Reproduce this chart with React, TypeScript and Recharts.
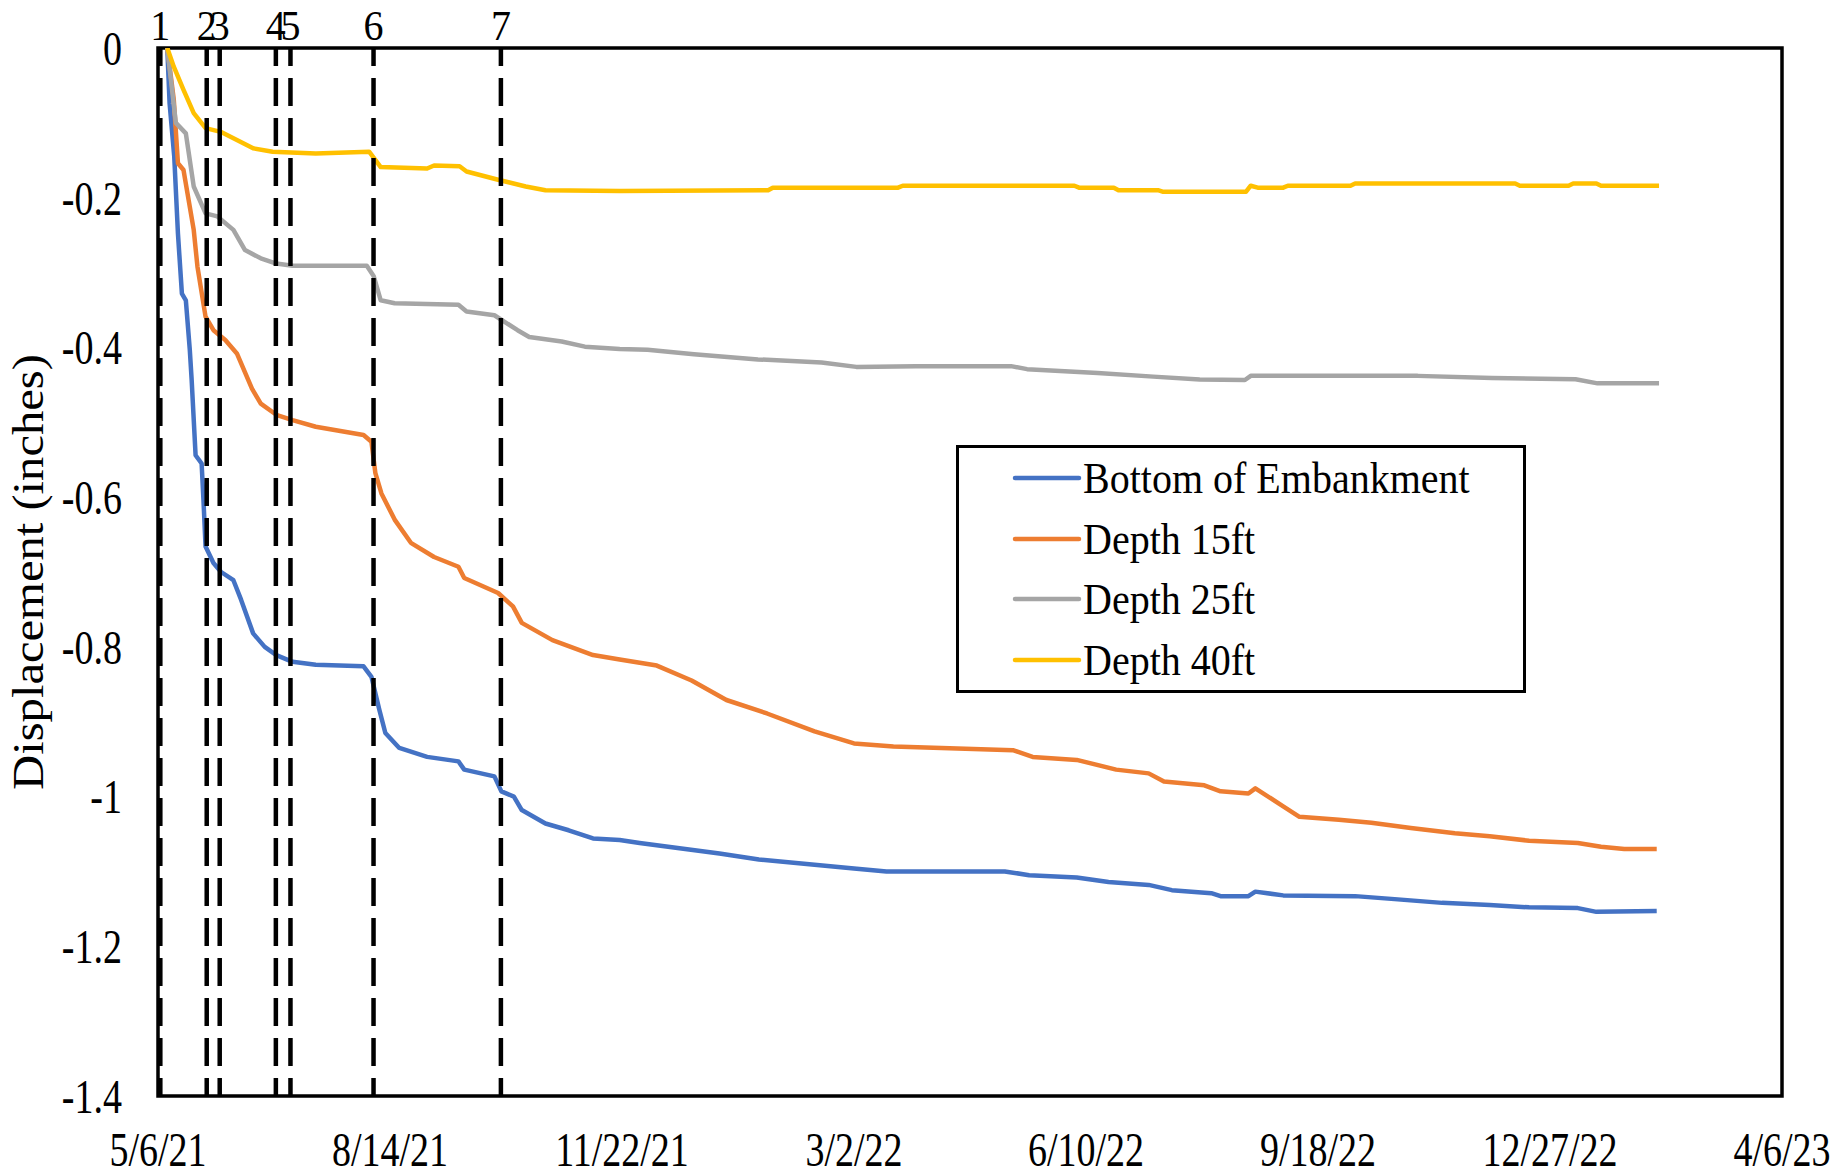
import React from 'react';
import { LineChart, Line, XAxis, YAxis, ReferenceLine, ReferenceArea, Legend } from 'recharts';

const FONT = '"Liberation Serif", "Times New Roman", Times, serif';

// X axis: days since 5/6/21
const xTickDays = [0, 100, 200, 300, 400, 500, 600, 700];
const xTickLabels = ['5/6/21', '8/14/21', '11/22/21', '3/2/22', '6/10/22', '9/18/22', '12/27/22', '4/6/23'];

const yTicks = [0, -0.2, -0.4, -0.6, -0.8, -1, -1.2, -1.4];
const yTickLabels = ['0', '-0.2', '-0.4', '-0.6', '-0.8', '-1', '-1.2', '-1.4'];

// Construction events (vertical dashed lines)
const eventDays = [1, 21, 26.6, 50.8, 57.1, 92.9, 147.8];
const eventLabels = ['1', '2', '3', '4', '5', '6', '7'];

const seriesNames = ['Bottom of Embankment', 'Depth 15ft', 'Depth 25ft', 'Depth 40ft'];
const seriesColors = ['#4472C4', '#ED7D31', '#A5A5A5', '#FFC000'];

// Bottom of Embankment
const bottomDays = [4, 5, 7, 8.6, 10.3, 12, 13.7, 14.5, 16.2, 18.8, 19.6, 20.5, 23.9, 27.2, 32.5, 35.8, 41, 46, 51, 58, 68, 88.6, 92, 95.4, 98, 104, 116, 129.5, 132, 145, 148, 153.4, 156.8, 167, 177, 187.5, 199, 207.6, 224.8, 242, 259, 279.6, 300, 314, 365, 375.5, 396, 409.7, 427, 437, 454, 458, 470, 473, 485, 516, 533, 553.5, 574, 591, 612, 620, 646];
const bottomValues = [0, -0.074, -0.145, -0.248, -0.328, -0.337, -0.403, -0.443, -0.544, -0.555, -0.604, -0.666, -0.688, -0.700, -0.711, -0.737, -0.782, -0.800, -0.811, -0.820, -0.824, -0.826, -0.840, -0.884, -0.915, -0.935, -0.947, -0.953, -0.964, -0.973, -0.993, -1.000, -1.018, -1.036, -1.045, -1.056, -1.058, -1.062, -1.069, -1.076, -1.084, -1.090, -1.096, -1.100, -1.100, -1.105, -1.108, -1.114, -1.118, -1.125, -1.129, -1.133, -1.133, -1.127, -1.132, -1.133, -1.137, -1.142, -1.145, -1.148, -1.149, -1.154, -1.153];

// Depth 15ft
const d15Days = [4, 6.8, 8.6, 11, 15.4, 17, 20.5, 23.9, 29, 34, 40.5, 44.3, 51, 58, 68, 88.6, 92, 93.7, 96.3, 102, 109, 119, 129.5, 132, 146.6, 153, 156.8, 170, 187.5, 199, 215, 230, 245, 262.5, 283, 300, 317, 348, 368.5, 377, 396, 413, 427, 433.6, 451, 458, 470, 473, 485, 492, 509, 523, 540, 559, 574, 591, 612, 622, 632, 646];
const d15Values = [0, -0.069, -0.154, -0.163, -0.243, -0.292, -0.359, -0.377, -0.390, -0.408, -0.455, -0.475, -0.490, -0.497, -0.506, -0.517, -0.526, -0.568, -0.595, -0.630, -0.661, -0.680, -0.693, -0.708, -0.728, -0.746, -0.768, -0.791, -0.811, -0.817, -0.825, -0.845, -0.871, -0.889, -0.913, -0.929, -0.933, -0.936, -0.938, -0.947, -0.951, -0.964, -0.969, -0.980, -0.985, -0.993, -0.996, -0.989, -1.013, -1.027, -1.031, -1.035, -1.042, -1.049, -1.053, -1.059, -1.062, -1.067, -1.070, -1.070];

// Depth 25ft
const d25Days = [4, 7.7, 12, 15.4, 20.5, 25.6, 32.5, 37.5, 44.3, 51, 58, 90, 93, 96, 102, 129.5, 133, 145, 155, 160, 174, 184, 199, 211, 231, 258.6, 286, 301, 326.7, 367.7, 374.6, 405, 429, 449, 468.5, 471, 490, 543, 575, 611, 620.5, 647];
const d25Values = [0, -0.100, -0.114, -0.185, -0.221, -0.225, -0.243, -0.270, -0.281, -0.288, -0.291, -0.291, -0.305, -0.337, -0.341, -0.343, -0.352, -0.357, -0.377, -0.386, -0.392, -0.399, -0.402, -0.403, -0.409, -0.416, -0.420, -0.426, -0.425, -0.425, -0.429, -0.434, -0.439, -0.443, -0.4435, -0.438, -0.438, -0.438, -0.441, -0.4425, -0.448, -0.448];

// Depth 40ft
const d40Days = [4, 6.8, 11, 15.4, 20.5, 27, 34, 41, 49.4, 68, 91, 96, 116, 119, 130, 133, 146.6, 158.5, 167, 199, 263, 265, 319, 321, 395, 397, 412, 414, 431, 433, 469, 471, 474, 485, 487, 514, 516, 585, 587, 608, 610, 620, 622, 647];
const d40Values = [0, -0.025, -0.056, -0.087, -0.107, -0.112, -0.123, -0.134, -0.1385, -0.141, -0.1385, -0.159, -0.161, -0.157, -0.158, -0.165, -0.176, -0.185, -0.190, -0.191, -0.190, -0.1866, -0.1866, -0.184, -0.184, -0.1866, -0.1866, -0.190, -0.190, -0.192, -0.192, -0.184, -0.1866, -0.1866, -0.184, -0.184, -0.181, -0.181, -0.184, -0.184, -0.181, -0.181, -0.184, -0.184];

const toRows = (days: number[], values: number[]) => days.map((d, i) => ({ day: d, value: values[i] }));

const seriesData = [
  toRows(bottomDays, bottomValues),
  toRows(d15Days, d15Values),
  toRows(d25Days, d25Values),
  toRows(d40Days, d40Values),
];

const DashedShape = (props: any) => {
  const { x1, y1, x2, y2 } = props;
  const top = Math.min(y1, y2);
  const bottom = Math.max(y1, y2);
  return (
    <line
      x1={x1}
      y1={top}
      x2={x2}
      y2={bottom}
      stroke="#000"
      strokeWidth={4.5}
      strokeDasharray="28 12"
      strokeDashoffset={10}
    />
  );
};

const XTick = (props: any) => {
  const { x, y, payload } = props;
  const b = y + 27;
  const label = xTickLabels[xTickDays.indexOf(payload.value)] ?? '';
  return (
    <text
      x={x}
      y={b}
      textAnchor="middle"
      fontSize={38}
      fontFamily={FONT}
      fill="#000"
      transform={`translate(0 ${b}) scale(1 1.25) translate(0 ${-b})`}
    >
      {label}
    </text>
  );
};

const YTick = (props: any) => {
  const { x, y, payload } = props;
  const label = yTickLabels[yTicks.indexOf(payload.value)] ?? '';
  return (
    <text
      x={x}
      y={y}
      dy="0.355em"
      textAnchor="end"
      fontSize={38}
      fontFamily={FONT}
      fill="#000"
      transform={`translate(0 ${y}) scale(1 1.25) translate(0 ${-y})`}
    >
      {label}
    </text>
  );
};

const makeEventLabel = (text: string) => (p: any) => {
  const vb = p.viewBox || { x: 0, y: 48, width: 0, height: 0 };
  const cx = vb.x + (vb.width || 0) / 2;
  const b = vb.y - 8;
  return (
    <text
      x={cx}
      y={b}
      textAnchor="middle"
      fontSize={40}
      fontFamily={FONT}
      fill="#000"
      transform={`translate(0 ${b}) scale(1 1.08) translate(0 ${-b})`}
    >
      {text}
    </text>
  );
};

const LegendBox = () => (
  <div
    style={{
      boxSizing: 'border-box',
      width: 570,
      height: 248,
      border: '3px solid #000',
      background: '#fff',
      paddingLeft: 53,
      fontFamily: FONT,
    }}
  >
    {seriesNames.map((n, i) => (
      <div key={n} style={{ height: 60.5, display: 'flex', alignItems: 'center' }}>
        <svg width={70} height={10} style={{ display: 'block' }}>
          <line x1={3} y1={5} x2={67} y2={5} stroke={seriesColors[i]} strokeWidth={4.5} strokeLinecap="round" />
        </svg>
        <span
          style={{
            display: 'inline-block',
            fontSize: 40,
            lineHeight: 1,
            marginLeft: 1,
            color: '#000',
            whiteSpace: 'nowrap',
            transform: 'scaleY(1.12)',
            transformOrigin: 'center',
          }}
        >
          {n}
        </span>
      </div>
    ))}
  </div>
);

const YTitle = (props: any) => {
  const vb = props.viewBox || { x: 0, y: 48, width: 158, height: 1048 };
  const cx = vb.x + 43;
  const cy = vb.y + vb.height / 2;
  return (
    <text
      x={0}
      y={0}
      transform={`translate(${cx} ${cy}) rotate(-90) scale(1.08 1)`}
      textAnchor="middle"
      fontSize={45}
      fontFamily={FONT}
      fill="#000"
    >
      Displacement (inches)
    </text>
  );
};

export default function App() {
  return (
    <div style={{ position: 'absolute', left: 0, top: 0, background: '#fff' }}>
      <LineChart width={1840} height={1172} margin={{ top: 48, right: 58, bottom: 0, left: 0 }}>
        <XAxis
          type="number"
          dataKey="day"
          domain={[0, 700]}
          ticks={xTickDays}
          interval={0}
          allowDataOverflow
          tick={<XTick />}
          tickLine={false}
          axisLine={false}
          tickSize={0}
          tickMargin={43}
          height={76}
        />
        <YAxis
          type="number"
          domain={[-1.4, 0]}
          ticks={yTicks}
          interval={0}
          allowDataOverflow
          tick={<YTick />}
          tickLine={false}
          axisLine={false}
          tickSize={0}
          tickMargin={36}
          width={158}
          label={{ content: (p: any) => <YTitle {...p} /> }}
        />
        <ReferenceArea x1={0} x2={700} y1={-1.4} y2={0} fill="none" stroke="#000" strokeWidth={3.5} fillOpacity={0} />
        {seriesData.map((rows, i) => (
          <Line
            key={seriesNames[i]}
            data={rows}
            dataKey="value"
            name={seriesNames[i]}
            type="linear"
            stroke={seriesColors[i]}
            strokeWidth={4.5}
            strokeLinejoin="round"
            dot={false}
            activeDot={false}
            isAnimationActive={false}
          />
        ))}
        {eventDays.map((d, i) => (
          <ReferenceLine
            key={eventLabels[i]}
            x={d}
            shape={DashedShape}
            label={{ content: makeEventLabel(eventLabels[i]) }}
          />
        ))}
        <Legend
          layout="horizontal"
          verticalAlign="middle"
          align="center"
          wrapperStyle={{ left: 956, top: 445, width: 570, height: 248 }}
          content={() => <LegendBox />}
        />
      </LineChart>
    </div>
  );
}
